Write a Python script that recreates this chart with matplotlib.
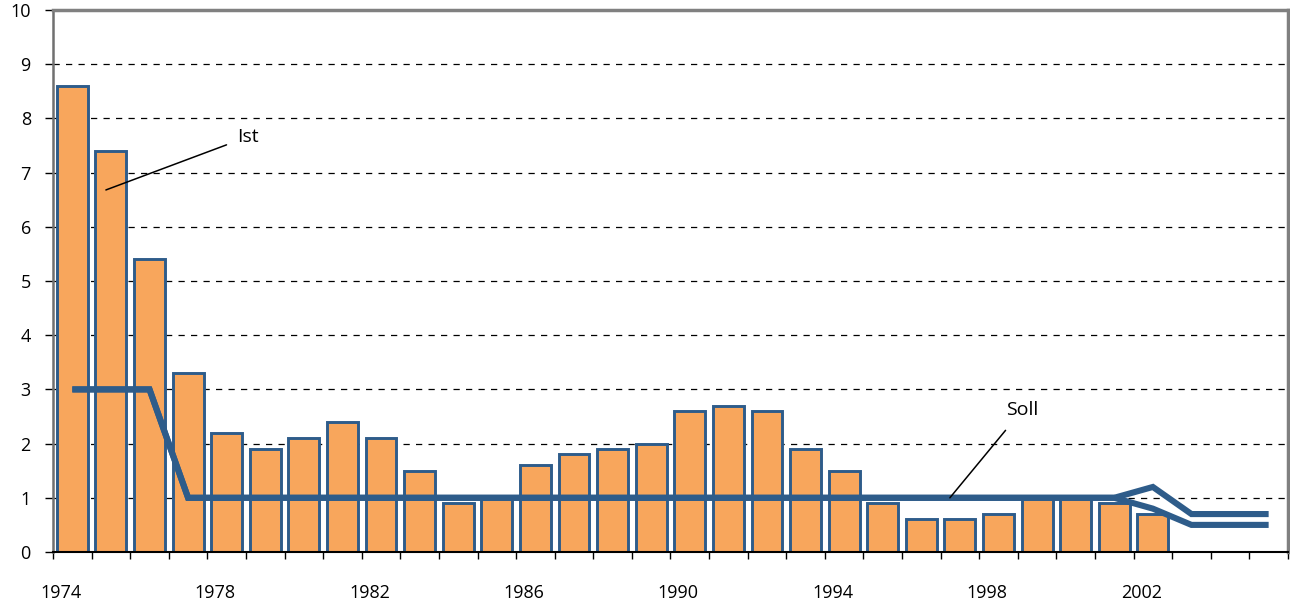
import numpy as np
import matplotlib.pyplot as plt

plt.rcParams['font.family'] = ['Open Sans', 'DejaVu Sans']

# Years on the category axis (the Soll lines run three years past the bars)
years = list(range(1974, 2006))
ist = [8.6, 7.4, 5.4, 3.3, 2.2, 1.9, 2.1, 2.4, 2.1, 1.5, 0.9, 1.0, 1.6, 1.8, 1.9,
       2.0, 2.6, 2.7, 2.6, 1.9, 1.5, 0.9, 0.6, 0.6, 0.7, 1.0, 1.0, 0.9, 0.7]
soll_hi = [3, 3, 3] + [1] * 25 + [1.2, 0.7, 0.7, 0.7]
soll_lo = [3, 3, 3] + [1] * 25 + [0.8, 0.5, 0.5, 0.5]
label_years = [1974, 1978, 1982, 1986, 1990, 1994, 1998, 2002]

bar_fill = '#F8A65C'
blue = '#2E5C8A'

fig = plt.figure(figsize=(12.9, 6.04), dpi=100)
ax = fig.add_axes([0.0411, 0.0861, 0.9573, 0.8973])

x = np.arange(len(years))
ax.bar(x[:len(ist)], ist, width=0.8, color=bar_fill, edgecolor=blue, linewidth=2.1, zorder=2)
ax.plot(x, soll_lo, color=blue, linewidth=4.4, solid_capstyle='butt', solid_joinstyle='miter', zorder=3)
ax.plot(x, soll_hi, color=blue, linewidth=4.4, solid_capstyle='butt', solid_joinstyle='miter', zorder=3)

ax.set_xlim(-0.5, len(years) - 0.5)
ax.set_ylim(0, 10)

# y axis
ax.set_yticks(range(0, 11))
ax.tick_params(axis='y', labelsize=13, length=6, width=1, pad=10, colors='black')
ax.yaxis.grid(True, linestyle=(0, (5, 5)), color='black', linewidth=0.9)
ax.set_axisbelow(True)

# x axis: boundary ticks + offset year labels
ax.set_xticks(np.arange(-0.5, len(years)), minor=True)
ax.set_xticks([years.index(y) - 0.3 for y in label_years])
ax.set_xticklabels([str(y) for y in label_years])
ax.tick_params(axis='x', which='major', length=0, labelsize=13, pad=23)
ax.tick_params(axis='x', which='minor', length=5, width=1, direction='out')

for s in ['top', 'right']:
    ax.spines[s].set_color('#808080')
    ax.spines[s].set_linewidth(2.5)
ax.spines['left'].set_color('#707070')
ax.spines['left'].set_linewidth(1.8)
ax.spines['bottom'].set_color('black')
ax.spines['bottom'].set_linewidth(1.5)

# callouts
ax.annotate('Ist', xy=(0.87, 6.68), xytext=(4.27, 7.66), fontsize=14,
            va='center', ha='left',
            arrowprops=dict(arrowstyle='-', color='black', lw=1.1, shrinkA=6, shrinkB=0))
ax.annotate('Soll', xy=(22.74, 1.0), xytext=(24.2, 2.62), fontsize=14,
            va='center', ha='left',
            arrowprops=dict(arrowstyle='-', color='black', lw=1.1, shrinkA=8, shrinkB=0))

fig.savefig('out.png', dpi=100)
